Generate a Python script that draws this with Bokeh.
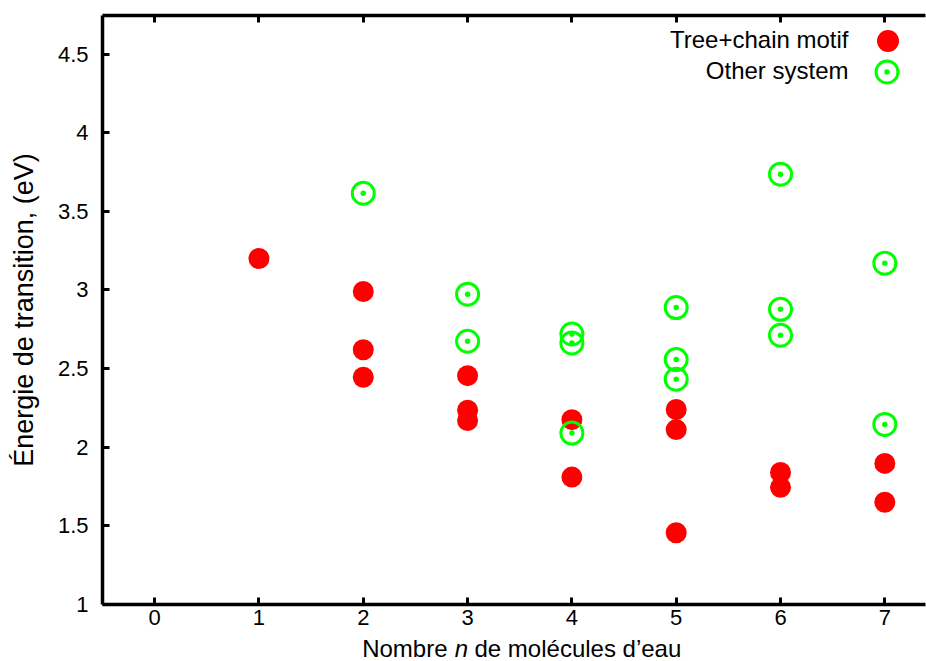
from bokeh.plotting import figure
from bokeh.layouts import column
from bokeh.models import (Range1d, LinearAxis, FixedTicker, CustomJSTickFormatter,
                          Legend, LegendItem, Label)
from bokeh.core.properties import value
from bokeh.embed import file_html
from bokeh.resources import INLINE

# ---- data ----
red_n = [1, 2, 2, 2, 3, 3, 3, 4, 4, 5, 5, 5, 6, 6, 7, 7]
red_e = [3.20, 2.99, 2.62, 2.445, 2.455, 2.235, 2.17, 2.175, 1.81,
         2.24, 2.112, 1.456, 1.84, 1.745, 1.897, 1.65]
green_n = [2, 3, 3, 4, 4, 4, 5, 5, 5, 6, 6, 6, 7, 7]
green_e = [3.615, 2.973, 2.674, 2.72, 2.663, 2.09, 2.888, 2.557, 2.432,
           3.736, 2.877, 2.712, 3.17, 2.145]
x_ticks = [0, 1, 2, 3, 4, 5, 6, 7]
y_ticks = [1, 1.5, 2, 2.5, 3, 3.5, 4, 4.5]
series_labels = ["Tree+chain motif", "Other system"]
x_label_parts = ["Nombre", "n", "de molécules d’eau"]
y_label = "Énergie de transition, (eV)"

FONT = "Liberation Sans"

p = figure(width=926, height=634, output_backend="svg", toolbar_location=None,
           x_range=Range1d(-0.5, 7.39), y_range=Range1d(1, 4.745),
           min_border_left=102, min_border_right=1, min_border_top=15,
           min_border_bottom=30)
p.grid.visible = False
p.outline_line_color = None
p.background_fill_color = "white"
p.border_fill_color = "white"

fmt = CustomJSTickFormatter(code="return tick.toString()")
blank = CustomJSTickFormatter(code="return ''")

def style_axis(ax, ticks, formatter):
    ax.ticker = FixedTicker(ticks=ticks)
    ax.formatter = formatter
    ax.minor_tick_line_color = None
    ax.major_tick_in = 7
    ax.major_tick_out = 0
    ax.major_tick_line_width = 3
    ax.major_tick_line_color = "black"
    ax.axis_line_width = 3.5
    ax.axis_line_color = "black"
    ax.major_label_text_font = FONT
    ax.major_label_text_font_size = "22px"
    ax.major_label_text_color = "black"

xa = p.xaxis[0]
style_axis(xa, x_ticks, fmt)
xa.major_label_standoff = 5

ya = p.yaxis[0]
style_axis(ya, y_ticks, fmt)
ya.major_label_standoff = 14
ya.axis_label = y_label
ya.axis_label_text_font = FONT
ya.axis_label_text_font_size = "27px"
ya.axis_label_text_font_style = "normal"
ya.axis_label_text_color = "black"
ya.axis_label_standoff = 16

top = LinearAxis()
style_axis(top, x_ticks, blank)
top.major_label_standoff = 0
top.major_label_text_font_size = "0px"
p.add_layout(top, "above")

r_red = p.scatter(red_n, red_e, marker="circle", size=21,
                  fill_color="#ff0000", line_color=None)
r_green = p.scatter(green_n, green_e, marker="circle_dot", size=22,
                    fill_color=None, line_color="#00ff00", line_width=3)

def make_legend(renderer, loc):
    leg = Legend(items=[LegendItem(label=value(" "), renderers=[renderer])],
                 location=loc, glyph_width=55, glyph_height=55,
                 padding=0, margin=0, spacing=0, label_standoff=0,
                 label_width=0, label_height=0, label_text_font_size="1px",
                 background_fill_alpha=0, border_line_color=None)
    p.add_layout(leg)

make_legend(r_red, (758, 536))
make_legend(r_green, (757, 505))

for txt, yy in zip(series_labels, [565, 534]):
    p.add_layout(Label(x=746, y=yy, x_units="screen", y_units="screen",
                       text=txt, text_align="right", text_baseline="alphabetic",
                       text_font=FONT, text_font_size="24px", text_color="black"))

# ---- x-axis title strip (mixed upright / italic text) ----
p2 = figure(width=926, height=27, output_backend="svg", toolbar_location=None,
            x_range=Range1d(0, 1), y_range=Range1d(0, 1),
            x_axis_location=None, y_axis_location=None,
            min_border_left=0, min_border_right=0, min_border_top=0,
            min_border_bottom=0)
p2.grid.visible = False
p2.outline_line_color = None
p2.background_fill_color = "white"
p2.border_fill_color = "white"

XL_Y = 13
for txt, xx, align, style in zip(x_label_parts, [345, 359, 372],
                                 ["right", "center", "left"],
                                 ["normal", "italic", "normal"]):
    p2.add_layout(Label(x=xx, y=XL_Y, x_units="screen", y_units="screen",
                        text=txt, text_align=align, text_baseline="alphabetic",
                        text_font=FONT, text_font_style=style,
                        text_font_size="24px", text_color="black"))

layout = column(p, p2, spacing=0)
open("out.html", "w").write(file_html(layout, INLINE))
